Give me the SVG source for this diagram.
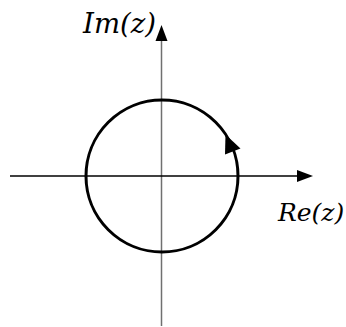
<svg xmlns="http://www.w3.org/2000/svg" width="346" height="327" viewBox="0 0 346 327">
<style>
.lbl{font-family:"DejaVu Serif",serif;font-style:italic;font-size:27px;fill:#000}
.ax{stroke-width:1.5;fill:none}
</style>
<rect width="346" height="327" fill="#fff"/>
<g id="axes">
<line class="ax" x1="161.5" y1="40" x2="161.5" y2="326" stroke="#707070"/>
<polygon points="161.5,25 155.5,41 167.5,41" fill="#000"/>
<line class="ax" x1="10" y1="176" x2="298" y2="176" stroke="#000"/>
<polygon points="313,176 297,170 297,182" fill="#000"/>
</g>
<g id="contour">
<circle cx="162" cy="176" r="76" fill="none" stroke="#000" stroke-width="3"/>
<polygon points="225.5,134.5 240.5,148.5 225,154.5" fill="#000"/>
</g>
<g id="labels">
<text class="lbl" x="83" y="33" textLength="73" lengthAdjust="spacingAndGlyphs">Im(z)</text>
<text class="lbl" x="278" y="221" style="font-size:25px">Re(z)</text>
</g>
</svg>
